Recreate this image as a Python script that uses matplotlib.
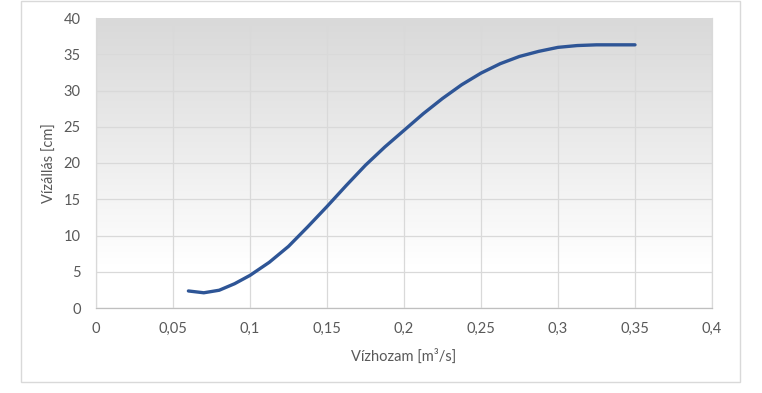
import numpy as np
import matplotlib
matplotlib.use("Agg")
import matplotlib.pyplot as plt
from matplotlib.colors import LinearSegmentedColormap
from matplotlib.patches import Rectangle

# adatok
vizhozam = [0.06, 0.07, 0.08, 0.09, 0.10, 0.1125, 0.125, 0.1375, 0.15,
            0.1625, 0.175, 0.1875, 0.20, 0.2125, 0.225, 0.2375, 0.25,
            0.2625, 0.275, 0.2875, 0.30, 0.3125, 0.325, 0.3375, 0.35]
vizallas = [2.35, 2.1, 2.45, 3.35, 4.5, 6.3, 8.5, 11.2, 14.0,
            16.9, 19.7, 22.2, 24.5, 26.8, 28.9, 30.8, 32.4,
            33.7, 34.7, 35.4, 35.95, 36.2, 36.3, 36.3, 36.3]

xticks = [0, 0.05, 0.1, 0.15, 0.2, 0.25, 0.3, 0.35, 0.4]
xticklabels = ["0", "0,05", "0,1", "0,15", "0,2", "0,25", "0,3", "0,35", "0,4"]
yticks = [0, 5, 10, 15, 20, 25, 30, 35, 40]

plt.rcParams['font.family'] = ['Lato', 'DejaVu Sans']
txt = '#595959'

fig = plt.figure(figsize=(7.62, 3.93), dpi=100)
fig.patches.append(Rectangle((21 / 762, 11 / 393), 719 / 762, 381 / 393,
                             transform=fig.transFigure, fill=False,
                             edgecolor='#d9d9d9', linewidth=1))

ax = fig.add_axes([96 / 762, 85 / 393, 616 / 762, 290 / 393])

# szürke -> fehér átmenet a háttérben
cmap = LinearSegmentedColormap.from_list(
    'bg', [(0, '#ffffff'), (0.15, '#ffffff'), (0.55, '#ececec'), (1, '#d9d9d9')])
grad = np.linspace(0, 1, 256).reshape(-1, 1)
ax.imshow(grad, cmap=cmap, aspect='auto', origin='lower',
          extent=[0, 0.4, 0, 40], zorder=0)

ax.plot(vizhozam, vizallas, color='#2e5596', linewidth=2.4,
        solid_capstyle='round', solid_joinstyle='round', zorder=3)

ax.set_xlim(0, 0.4)
ax.set_ylim(0, 40)
ax.set_xticks(xticks)
ax.set_xticklabels(xticklabels)
ax.set_yticks(yticks)
ax.grid(True, color='#d9d9d9', linewidth=0.9, zorder=1)
ax.set_axisbelow(False)
ax.spines['top'].set_visible(False)
for s in ['left', 'right']:
    ax.spines[s].set_color('#d9d9d9')
    ax.spines[s].set_linewidth(0.9)
ax.spines['bottom'].set_color('#bfbfbf')
ax.spines['bottom'].set_linewidth(0.9)

ax.tick_params(length=0, labelsize=10.5, labelcolor=txt)
ax.tick_params(axis='y', pad=11)
ax.tick_params(axis='x', pad=10)

ax.set_xlabel('Vízhozam [m³/s]', fontsize=10.5, color=txt, labelpad=9)
ax.set_ylabel('Vízállás [cm]', fontsize=10.5, color=txt, labelpad=5)

fig.savefig('out.png', dpi=100, facecolor='white')
